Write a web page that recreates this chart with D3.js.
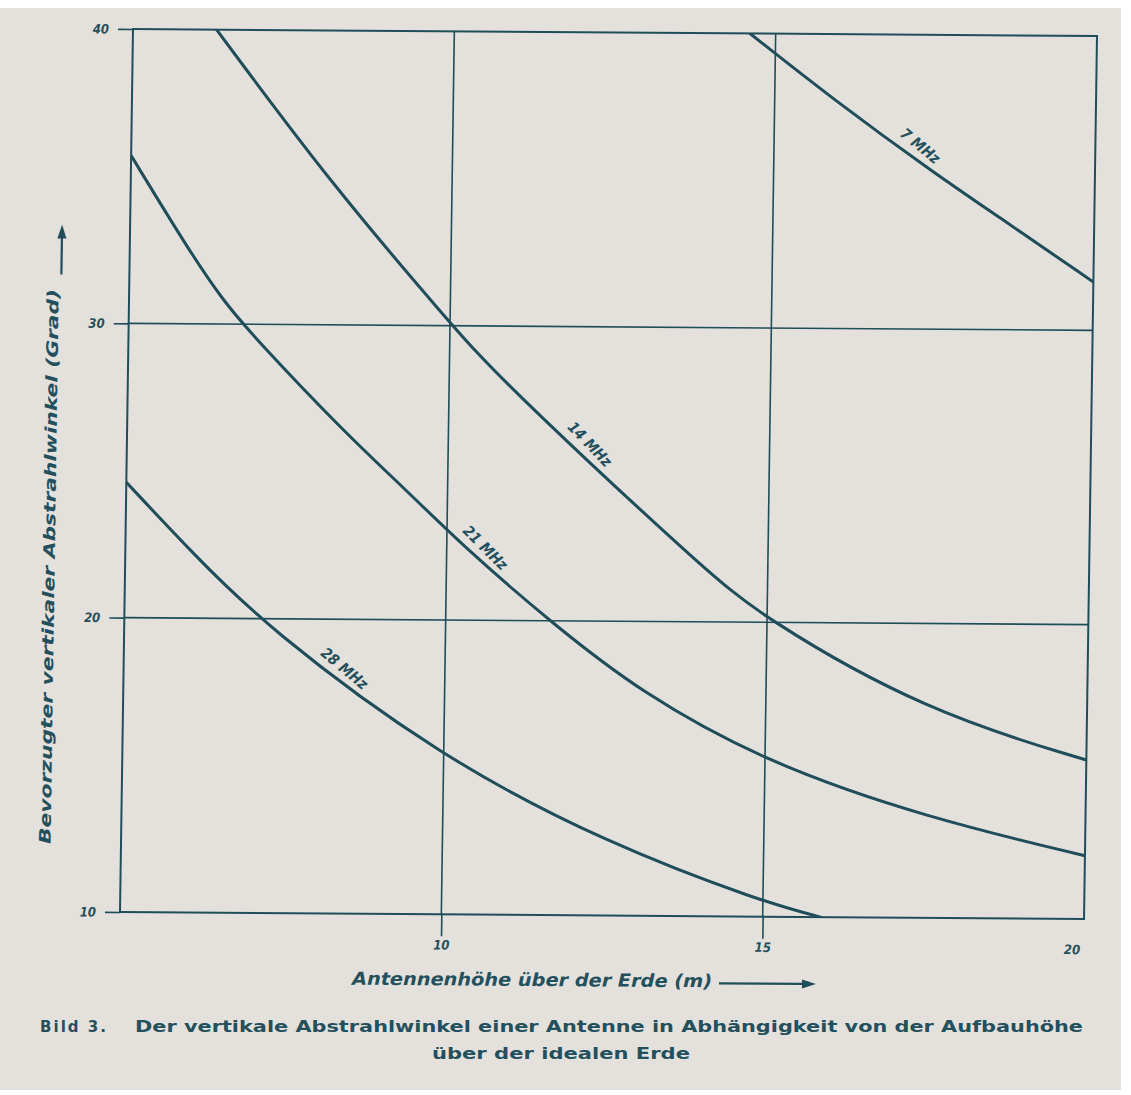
<!DOCTYPE html>
<html lang="de">
<head>
<meta charset="UTF-8" />
<title>Bild 3 - Abstrahlwinkel</title>
<script src="https://cdnjs.cloudflare.com/ajax/libs/d3/7.8.5/d3.min.js"></script>
<style>
    body { margin: 0; background: #ffffff; }
    svg { display: block; }
    .narrow {
        font-family: "Liberation Sans Narrow", "DejaVu Sans Condensed", "DejaVu Sans", sans-serif;
        font-style: italic;
        fill: #23505c;
    }
    .caption {
        font-family: "DejaVu Sans", "Noto Sans", sans-serif;
        font-weight: bold;
        fill: #23505c;
    }
</style>
</head>
<body>
<svg id="chart" width="1131" height="1095"></svg>
<script>
    // values (height in m, angle in degrees)
    const xTicks = [10, 15, 20];
    const yTicks = [10, 20, 30, 40];

    const mhz7  = [[14.6, 40], [15.9, 37.8], [17.5, 35.3], [18.5, 33.85], [20, 31.64]];
    const mhz14 = [[6.3, 40], [8.15, 34.7], [10, 30.1], [10.74, 28.3], [13.95, 21.9], [14.9, 20.2], [17.5, 17.0], [20, 15.4]];
    const mhz21 = [[5, 35.7], [5.89, 32.6], [6.46, 30.8], [6.94, 29.6], [8.36, 26.4], [9.26, 24.6], [10.36, 22.3], [11.67, 19.9], [13.04, 17.6], [15, 15.25], [17.53, 13.4], [20, 12.15]];
    const mhz28 = [[5, 24.6], [6.05, 22.2], [7.22, 19.7], [9.94, 15.35], [12.56, 12.45], [15, 10.5], [15.9, 10]];

    const seriesNames = ["7 MHz", "14 MHz", "21 MHz", "28 MHz"];
    const seriesData = [mhz7, mhz14, mhz21, mhz28];
    const labelAtX = [17.15, 12.06, 10.46, 8.31];

    const xTitle = "Antennenhöhe über der Erde (m)";
    const yTitle = "Bevorzugter vertikaler Abstrahlwinkel (Grad)";
    const captionNo = "Bild 3.";
    const captionLine1 = "Der vertikale Abstrahlwinkel einer Antenne in Abhängigkeit von der Aufbauhöhe";
    const captionLine2 = "über der idealen Erde";

    const ink = "#1f4d5a";
    const paper = "#e4e1dd";
    const W = 964, H = 883;

    const svg = d3.select("#chart");

    // scanned page
    svg.append("rect")
        .attr("x", 0).attr("y", 8)
        .attr("width", 1121).attr("height", 1082)
        .attr("fill", paper);

    const x = d3.scaleLinear().domain([5, 20]).range([0, W]);
    const y = d3.scaleLinear().domain([10, 40]).range([H, 0]);

    // the scan is slightly skewed, so the whole plot gets a small shear
    const g = svg.append("g")
        .attr("transform", "matrix(1, 0.00726, -0.01472, 1, 133, 29)");

    g.append("defs").append("clipPath").attr("id", "plotClip")
        .append("rect").attr("width", W).attr("height", H);

    // grid lines
    g.append("g").selectAll("line")
        .data([10, 15])
        .join("line")
        .attr("x1", d => x(d)).attr("x2", d => x(d))
        .attr("y1", 0).attr("y2", H)
        .attr("stroke", ink).attr("stroke-width", 1.6);

    g.append("g").selectAll("line")
        .data([20, 30])
        .join("line")
        .attr("x1", 0).attr("x2", W)
        .attr("y1", d => y(d)).attr("y2", d => y(d))
        .attr("stroke", ink).attr("stroke-width", 1.6);

    // axes (ticks stick out of the frame)
    const yAxis = g.append("g")
        .call(d3.axisLeft(y).tickValues(yTicks).tickSize(15).tickPadding(9).tickFormat(d3.format("d")));
    const xAxis = g.append("g")
        .attr("transform", `translate(0,${H})`)
        .call(d3.axisBottom(x).tickValues(xTicks).tickSize(22).tickPadding(4).tickFormat(d3.format("d")));

    [xAxis, yAxis].forEach(ax => {
        ax.select(".domain").remove();
        ax.attr("font-family", null).attr("font-size", null);
        ax.selectAll(".tick line").attr("stroke", ink).attr("stroke-width", 1.6);
        ax.selectAll(".tick text")
            .attr("class", "narrow")
            .attr("font-size", 13)
            .attr("font-weight", "bold")
            .attr("fill", ink);
    });
    xAxis.selectAll(".tick line").filter(d => d === 20).remove();
    xAxis.selectAll(".tick text").filter(d => d === 20).attr("dx", -12);

    // frame
    g.append("rect")
        .attr("width", W).attr("height", H)
        .attr("fill", "none")
        .attr("stroke", ink).attr("stroke-width", 2);

    // curves
    const line = d3.line()
        .x(d => x(d[0]))
        .y(d => y(d[1]))
        .curve(d3.curveBasis);

    g.append("g")
        .attr("clip-path", "url(#plotClip)")
        .selectAll("path")
        .data(seriesData)
        .join("path")
        .attr("d", line)
        .attr("fill", "none")
        .attr("stroke", ink)
        .attr("stroke-width", 3)
        .attr("stroke-linecap", "round");

    // labels along the curves
    function valueAt(pts, xv) {
        for (let i = 1; i < pts.length; i++) {
            if (xv <= pts[i][0]) {
                const t = (xv - pts[i - 1][0]) / (pts[i][0] - pts[i - 1][0]);
                return pts[i - 1][1] + t * (pts[i][1] - pts[i - 1][1]);
            }
        }
        return pts[pts.length - 1][1];
    }

    seriesData.forEach((pts, i) => {
        const xv = labelAtX[i];
        const px = x(xv), py = y(valueAt(pts, xv));
        const dx = x(xv + 0.3) - x(xv - 0.3);
        const dy = y(valueAt(pts, xv + 0.3)) - y(valueAt(pts, xv - 0.3));
        const a = Math.atan2(dy, dx);
        const off = 13;
        const cx = px + off * Math.sin(a), cy = py - off * Math.cos(a);
        g.append("text")
            .attr("class", "narrow")
            .attr("transform", `translate(${cx},${cy}) rotate(${a * 180 / Math.PI + 3})`)
            .attr("text-anchor", "middle")
            .attr("dominant-baseline", "middle")
            .attr("font-size", 15)
            .attr("font-weight", "bold")
            .attr("fill", ink)
            .attr("stroke", paper)
            .attr("stroke-width", 4)
            .attr("paint-order", "stroke")
            .text(seriesNames[i]);
    });

    // axis titles with arrows
    g.append("text")
        .attr("class", "narrow")
        .attr("transform", "translate(-75,538) rotate(-90)")
        .attr("text-anchor", "middle")
        .attr("dominant-baseline", "middle")
        .attr("font-size", 16)
        .attr("font-weight", "bold")
        .attr("textLength", 555)
        .attr("lengthAdjust", "spacingAndGlyphs")
        .text(yTitle);

    g.append("line")
        .attr("x1", -68).attr("x2", -68)
        .attr("y1", 246).attr("y2", 208)
        .attr("stroke", ink).attr("stroke-width", 2.2);
    g.append("path")
        .attr("d", "M-68,196 L-72.5,210 L-63.5,210 Z")
        .attr("fill", ink);

    g.append("text")
        .attr("class", "narrow")
        .attr("x", 233).attr("y", 949)
        .attr("dominant-baseline", "middle")
        .attr("font-size", 18)
        .attr("font-weight", "bold")
        .attr("textLength", 360)
        .attr("lengthAdjust", "spacingAndGlyphs")
        .text(xTitle);

    g.append("line")
        .attr("x1", 600).attr("x2", 684)
        .attr("y1", 950).attr("y2", 950)
        .attr("stroke", ink).attr("stroke-width", 2.2);
    g.append("path")
        .attr("d", "M697,950 L683,945.5 L683,954.5 Z")
        .attr("fill", ink);

    // caption
    svg.append("text")
        .attr("class", "caption")
        .attr("x", 40).attr("y", 1032)
        .attr("font-size", 15)
        .attr("textLength", 66)
        .text(captionNo);

    svg.append("text")
        .attr("class", "caption")
        .attr("x", 135).attr("y", 1032)
        .attr("font-size", 15)
        .attr("textLength", 948)
        .attr("lengthAdjust", "spacingAndGlyphs")
        .text(captionLine1);

    svg.append("text")
        .attr("class", "caption")
        .attr("x", 432).attr("y", 1059)
        .attr("font-size", 15)
        .attr("textLength", 258)
        .attr("lengthAdjust", "spacingAndGlyphs")
        .text(captionLine2);
</script>
</body>
</html>
